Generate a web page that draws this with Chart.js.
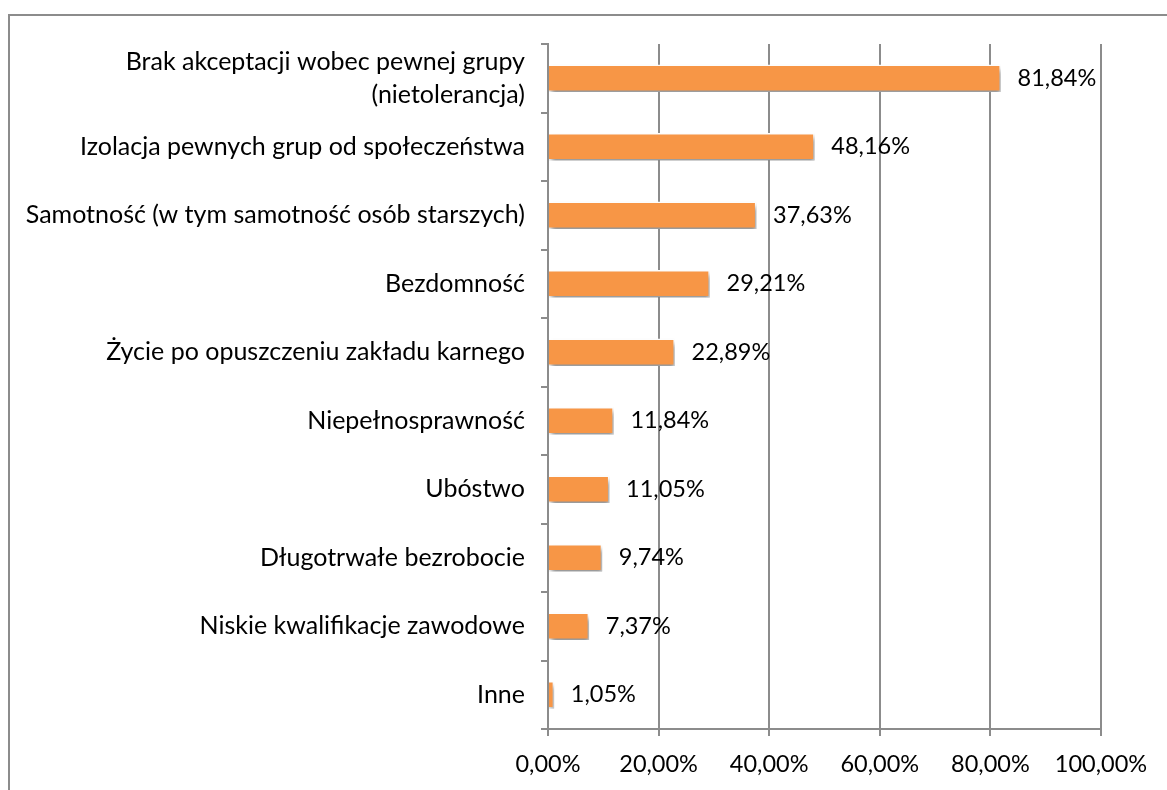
<!DOCTYPE html>
<html>
<head>
<meta charset="utf-8">
<script src="https://cdn.jsdelivr.net/npm/chart.js@4"></script>
<style>
  html, body { margin: 0; padding: 0; background: #fff; overflow: hidden; }
  #ramka { position: absolute; left: 8px; top: 14px; width: 1170px; height: 790px; border: 2px solid #8c8c8c; }
  #wrap { position: absolute; left: 0; top: 0; width: 1167px; height: 790px; }
</style>
</head>
<body>
<div id="ramka"></div>
<div id="wrap"><canvas id="wykres"></canvas></div>
<script>
// dane
const kategorie = [
  ['Brak akceptacji wobec pewnej grupy', '(nietolerancja)'],
  'Izolacja pewnych grup od społeczeństwa',
  'Samotność (w tym samotność osób starszych)',
  'Bezdomność',
  'Życie po opuszczeniu zakładu karnego',
  'Niepełnosprawność',
  'Ubóstwo',
  'Długotrwałe bezrobocie',
  'Niskie kwalifikacje zawodowe',
  'Inne'
];
const wartosci = [81.84, 48.16, 37.63, 29.21, 22.89, 11.84, 11.05, 9.74, 7.37, 1.05];
const osX = [0, 20, 40, 60, 80, 100];

const czcionka = 'Lato, "Open Sans", sans-serif';

function procent(v) {
  return v.toFixed(2).replace('.', ',') + '%';
}

// cien pod slupkami
const cien = {
  id: 'cien',
  beforeDatasetsDraw(chart) {
    const ctx = chart.ctx;
    ctx.save();
    ctx.shadowColor = 'rgba(0,0,0,0.45)';
    ctx.shadowBlur = 5;
    ctx.shadowOffsetX = 2;
    ctx.shadowOffsetY = 4;
  },
  afterDatasetsDraw(chart) {
    chart.ctx.restore();
  }
};

// etykiety z wartosciami
const etykiety = {
  id: 'etykiety',
  afterDatasetsDraw(chart) {
    const ctx = chart.ctx;
    const meta = chart.getDatasetMeta(0);
    ctx.save();
    ctx.fillStyle = '#000';
    ctx.font = '23.5px ' + czcionka;
    ctx.textBaseline = 'middle';
    ctx.textAlign = 'left';
    meta.data.forEach(function(bar, i) {
      ctx.fillText(procent(wartosci[i]), bar.x + 17, bar.y);
    });
    ctx.restore();
  }
};

const ctx = document.getElementById('wykres').getContext('2d');

new Chart(ctx, {
  type: 'bar',
  data: {
    labels: kategorie,
    datasets: [{
      data: wartosci,
      backgroundColor: '#F79646',
      borderColor: '#FFFFFF',
      borderWidth: 1.5,
      borderSkipped: 'left',
      barThickness: 27
    }]
  },
  options: {
    indexAxis: 'y',
    responsive: true,
    maintainAspectRatio: false,
    animation: false,
    layout: { padding: { left: 0, top: 44, right: 66, bottom: 0 } },
    plugins: {
      legend: { display: false },
      tooltip: { enabled: false }
    },
    scales: {
      x: {
        min: 0,
        max: 100,
        afterBuildTicks(scale) {
          scale.ticks = osX.map(v => ({ value: v }));
        },
        afterFit(scale) { scale.height = 61; },
        grid: {
          color: '#8c8c8c',
          lineWidth: 2,
          tickLength: 7,
          drawTicks: true
        },
        border: { color: '#8c8c8c', width: 2 },
        ticks: {
          color: '#000',
          padding: 14,
          maxRotation: 0,
          font: { family: czcionka, size: 23.5 },
          callback: v => procent(v)
        }
      },
      y: {
        afterFit(scale) { scale.width = 548; },
        grid: {
          drawOnChartArea: false,
          color: '#8c8c8c',
          lineWidth: 2,
          tickLength: 7
        },
        border: { color: '#8c8c8c', width: 2 },
        ticks: {
          color: '#000',
          padding: 16,
          font: { family: czcionka, size: 25, lineHeight: 1.3 }
        }
      }
    }
  },
  plugins: [cien, etykiety]
});
</script>
</body>
</html>
